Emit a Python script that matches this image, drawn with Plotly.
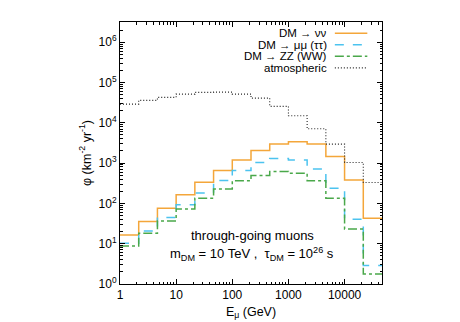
import numpy as np
import plotly.graph_objects as go

# bin edges: three bins per decade, 1 GeV .. ~46 TeV
edges = [1, 2.154, 4.642, 10, 21.54, 46.42, 100, 215.4, 464.2, 1000,
         2154, 4642, 10000, 21544, 46416]

nunu = [16.5, 35.5, 76, 163, 336, 655, 1200, 2050, 2960, 3360, 2960, 1460, 382, 43]
mumu = [10.3, 20.7, 44.6, 92, 182, 370, 656, 1036, 1300, 1200, 718, 238, 40.5, 2.86]
zz = [8.8, 18.2, 36.7, 73, 135, 229, 362, 493, 620, 562, 362, 135, 23.2, 1.77]
atmo = [29000, 35900, 42700, 51500, 56800, 57700, 51500, 40800, 25500, 14900,
        7080, 2950, 1036, 330]

names = ['DM → νν', 'DM → μμ (ττ)', 'DM → ZZ (WW)', 'atmospheric']
colors = ['#f4a63a', '#4cc3ef', '#4aa84a', '#222222']
dashes = ['solid', 'dash', 'dashdot', '1px,2px']
widths = [1.5, 1.5, 1.5, 1.1]

x_ticks = [1, 10, 100, 1000, 10000]
y_exps = [0, 1, 2, 3, 4, 5, 6]

font = 'Liberation Sans, Arial, sans-serif'

fig = go.Figure()
for vals, c, d, w in zip([nunu, mumu, zz, atmo], colors, dashes, widths):
    fig.add_trace(go.Scatter(x=edges, y=vals + [vals[-1]], mode='lines',
                             line=dict(color=c, dash=d, width=w, shape='hv'),
                             showlegend=False))

# legend: text on the left, line sample on the right (gnuplot style)
leg_y = [0.957, 0.913, 0.869, 0.825]
for name, c, d, w, yy in zip(names, colors, dashes, widths, leg_y):
    fig.add_annotation(x=0.799, y=yy, xref='paper', yref='paper', text=name,
                       showarrow=False, xanchor='right', yanchor='middle',
                       font=dict(size=11.5, color='black', family=font))
    fig.add_shape(type='line', xref='paper', yref='paper', x0=0.82, x1=0.944,
                  y0=yy, y1=yy, line=dict(color=c, dash=d, width=w))

fig.add_annotation(x=0.505, y=0.148, xref='paper', yref='paper',
                   text='through-going muons', showarrow=False,
                   font=dict(size=13, color='black', family=font))
fig.add_annotation(x=0.505, y=0.072, xref='paper', yref='paper',
                   text='m<sub>DM</sub> = 10 TeV ,  τ<sub>DM</sub> = 10<sup>26</sup> s',
                   showarrow=False, font=dict(size=13, color='black', family=font))

axis_common = dict(type='log', showgrid=False, zeroline=False, showline=True,
                   linecolor='black', linewidth=1, mirror='allticks',
                   ticks='inside', ticklen=5, tickcolor='black',
                   tickfont=dict(size=12, color='black', family=font),
                   minor=dict(ticks='inside', ticklen=2.5, tickcolor='black', dtick='D1'))

fig.update_layout(
    width=460, height=322,
    paper_bgcolor='white', plot_bgcolor='white',
    margin=dict(l=112, r=86, t=14, b=46),
    xaxis=dict(**axis_common, range=[0, np.log10(edges[-1])],
               tickvals=x_ticks, ticktext=[str(v) for v in x_ticks],
               title=dict(text='E<sub>μ</sub> (GeV)', standoff=5,
                          font=dict(size=12.5, color='black', family=font))),
    yaxis=dict(**axis_common, range=[0, 6.5],
               tickvals=[10.0 ** e for e in y_exps],
               ticktext=['10<sup>%d</sup>' % e for e in y_exps],
               title=dict(text='φ (km<sup>-2</sup> yr<sup>-1</sup>)', standoff=4,
                          font=dict(size=12.5, color='black', family=font))),
)

fig.write_html('out.html')
